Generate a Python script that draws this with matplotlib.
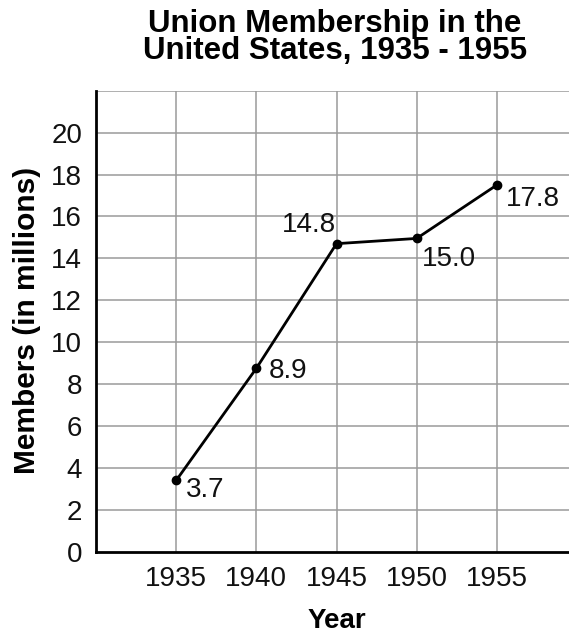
import matplotlib
matplotlib.use('Agg')
import matplotlib.pyplot as plt

plt.rcParams['font.family'] = ['Liberation Sans', 'DejaVu Sans']

# data (plotted positions, printed labels as shown)
years = [1935, 1940, 1945, 1950, 1955]
members = [3.4, 8.75, 14.7, 14.95, 17.5]
point_labels = ['3.7', '8.9', '14.8', '15.0', '17.8']
label_offsets = [(7, -11.7), (8.6, -7), (-0.7, 8.6), (3.8, -20), (6.5, -15)]
label_align = ['left', 'left', 'right', 'left', 'left']
y_ticks = [0, 2, 4, 6, 8, 10, 12, 14, 16, 18, 20]
x_ticks = [1935, 1940, 1945, 1950, 1955]

W, H = 569, 633
fig = plt.figure(figsize=(W / 100, H / 100), dpi=100)
ax = fig.add_axes([96 / W, 1 - 551.7 / H, (W - 96) / W, (551.7 - 90.7) / H])

ax.set_xlim(1930, 1959.5)
ax.set_ylim(0, 22)

# grid every 2 units and every 5 years, top line at 22 included
for y in range(2, 23, 2):
    ax.axhline(y, color='#9a9a9a', linewidth=1.1, zorder=1)
for x in x_ticks:
    ax.axvline(x, color='#9a9a9a', linewidth=1.1, zorder=1)

ax.plot(years, members, color='black', linewidth=2, marker='o',
        markersize=6, zorder=3)

for x, y, lab, off, ha in zip(years, members, point_labels, label_offsets, label_align):
    ax.annotate(lab, (x, y), xytext=off, textcoords='offset points',
                ha=ha, va='baseline', fontsize=20, color='#111111')

for side in ['top', 'right']:
    ax.spines[side].set_visible(False)
for side in ['left', 'bottom']:
    ax.spines[side].set_linewidth(2)
    ax.spines[side].set_color('black')

ax.set_xticks(x_ticks)
ax.set_yticks(y_ticks)
ax.tick_params(axis='both', length=0, labelsize=20, colors='#111111')
ax.tick_params(axis='x', pad=10)
ax.tick_params(axis='y', pad=10)

fig.text(337 / W, 1 - 628 / H, 'Year', fontsize=20, fontweight='bold',
         ha='center', va='baseline')
fig.text(27 / W, 1 - 320 / H, 'Members (in millions)', fontsize=21.5,
         fontweight='bold', rotation=90, ha='center', va='center')
fig.text(335 / W, 1 - 59 / H, 'Union Membership in the\nUnited States, 1935 - 1955',
         fontsize=22.5, fontweight='bold', ha='center', va='baseline',
         multialignment='center', linespacing=0.88)

plt.savefig('out.png', dpi=100)
plt.close()
